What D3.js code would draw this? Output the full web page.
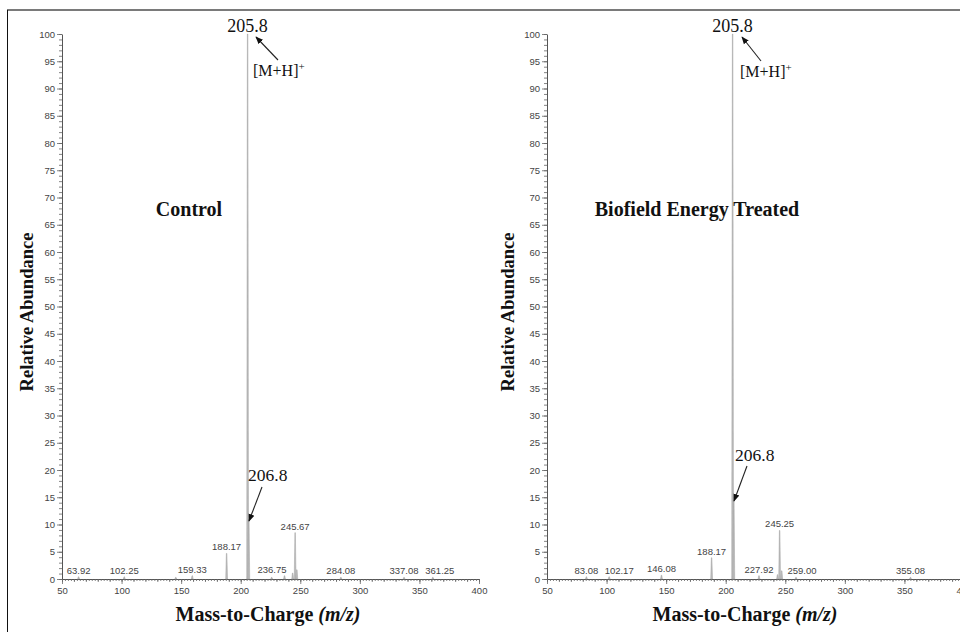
<!DOCTYPE html>
<html>
<head>
<meta charset="utf-8">
<script src="https://cdn.jsdelivr.net/npm/d3@7"></script>
<style>
  html, body { margin: 0; padding: 0; background: #fff; }
  svg { display: block; }
</style>
</head>
<body>
<svg id="chart" width="960" height="632"></svg>
<script>
// ---------- data ----------
const xDomain = [50, 400];
const yDomain = [0, 100];
const xTickValues = [50, 100, 150, 200, 250, 300, 350, 400];
const yTickValues = [0, 5, 10, 15, 20, 25, 30, 35, 40, 45, 50, 55, 60, 65, 70, 75, 80, 85, 90, 95, 100];

const panelTitles = ["Control", "Biofield Energy Treated"];

// Control spectrum (m/z, relative abundance %)
const controlMz    = [63.92, 102.25, 145.5, 159.33, 188.17, 205.8, 206.8, 226.0, 236.75, 243.6, 245.67, 247.1, 284.08, 337.08, 361.25];
const controlAbund = [0.4,   0.4,    0.3,   0.6,    4.7,    100,   11,    0.3,   0.6,    1.1,   8.5,    1.7,   0.3,    0.3,    0.3];
const controlLabeled = ["63.92", "102.25", "159.33", "188.17", "236.75", "245.67", "284.08", "337.08", "361.25"];

// Treated spectrum
const treatedMz    = [83.08, 102.17, 146.08, 188.17, 205.8, 206.8, 227.92, 243.5, 245.25, 247.0, 259.00, 355.08];
const treatedAbund = [0.4,   0.4,    0.7,    3.9,    100,   15,    0.6,    0.8,   8.9,    1.5,   0.3,    0.3];
const treatedLabeled = ["83.08", "102.17", "146.08", "188.17", "227.92", "245.25", "259.00", "355.08"];

const mainPeakLabel = "205.8";
const secondPeakLabel = "206.8";
const ionLabel = "[M+H]";
const xTitle = "Mass-to-Charge ";
const xTitleItalic = "(m/z)";
const yTitle = "Relative Abundance";

// ---------- layout ----------
const svg = d3.select("#chart");
const tickFont = "'Liberation Sans', Arial, sans-serif";
const serif = "'Liberation Serif', 'Times New Roman', serif";

// frame
svg.append("line").attr("x1", 7).attr("x2", 960).attr("y1", 10).attr("y2", 10)
  .attr("stroke", "#7a7a7a").attr("stroke-width", 2);
svg.append("line").attr("x1", 7.5).attr("x2", 7.5).attr("y1", 10).attr("y2", 632)
  .attr("stroke", "#111").attr("stroke-width", 1);

const panels = [
  { left: 62, right: 479, mz: controlMz, ab: controlAbund, labeled: controlLabeled, title: panelTitles[0],
    titleX: 189, xTitleX: 268, yTitleX: 33,
    nudge: { "236.75": { anchor: "end", dx: 2 }, "361.25": { anchor: "middle", dx: 7 } },
    arrowMain: { head: [256, 37], tail: [278, 60], text: [253, 76] },
    arrow2: { text: [248, 481], tail: [262, 487], head: [249, 521] } },
  { left: 547, right: 964, mz: treatedMz, ab: treatedAbund, labeled: treatedLabeled, title: panelTitles[1],
    titleX: 697, xTitleX: 745, yTitleX: 514,
    nudge: { "102.17": { anchor: "middle", dx: 10 }, "259.00": { anchor: "middle", dx: 6 } },
    arrowMain: { head: [742, 37], tail: [761, 61], text: [740, 77] },
    arrow2: { text: [735, 461], tail: [747, 466], head: [734, 501] } }
];

const plotTop = 34, plotBottom = 579;
const y = d3.scaleLinear().domain(yDomain).range([plotBottom, plotTop]);

// arrow marker
svg.append("defs").append("marker")
  .attr("id", "arrow").attr("viewBox", "0 0 10 10").attr("refX", 9).attr("refY", 5)
  .attr("markerWidth", 7).attr("markerHeight", 7).attr("orient", "auto-start-reverse")
  .append("path").attr("d", "M0,1 L10,5 L0,9 Z").attr("fill", "#111");

panels.forEach(p => {
  const x = d3.scaleLinear().domain(xDomain).range([p.left, p.right]);
  const g = svg.append("g");

  // y axis
  const yAxis = d3.axisLeft(y).tickValues(yTickValues).tickSize(5).tickPadding(2).tickSizeOuter(0);
  const yg = g.append("g").attr("transform", `translate(${p.left},0)`).call(yAxis);
  const yMinor = d3.axisLeft(y).tickValues(d3.range(0, 101, 1)).tickSize(3).tickFormat("").tickSizeOuter(0);
  const ym = g.append("g").attr("transform", `translate(${p.left},0)`).call(yMinor);
  ym.select(".domain").remove();

  // x axis
  const xAxis = d3.axisBottom(x).tickValues(xTickValues).tickSize(5).tickPadding(3).tickSizeOuter(0);
  const xg = g.append("g").attr("transform", `translate(0,${plotBottom})`).call(xAxis);
  const xMinor = d3.axisBottom(x).tickValues(d3.range(50, 401, 2.5)).tickSize(2).tickFormat("").tickSizeOuter(0);
  const xm = g.append("g").attr("transform", `translate(0,${plotBottom})`).call(xMinor);
  xm.select(".domain").remove();
  const xMid = d3.axisBottom(x).tickValues(d3.range(50, 401, 10)).tickSize(3).tickFormat("").tickSizeOuter(0);
  const xmid = g.append("g").attr("transform", `translate(0,${plotBottom})`).call(xMid);
  xmid.select(".domain").remove();

  [yg, ym, xg, xm, xmid].forEach(a => {
    a.selectAll("line").attr("stroke", "#666").attr("stroke-width", 0.8);
    a.selectAll(".domain").attr("stroke", "#555").attr("stroke-width", 1);
    a.selectAll("text").attr("font-family", tickFont).attr("font-size", 9.5).attr("fill", "#444");
  });

  // peaks
  const peaks = p.mz.map((m, i) => ({ mz: m, ab: p.ab[i] }));
  g.append("g").selectAll("path").data(peaks).join("path")
    .attr("d", d => {
      const x0 = x(d.mz);
      return `M${x0 - 0.9},${plotBottom} L${x0 - 0.25},${y(d.ab)} L${x0 + 0.25},${y(d.ab)} L${x0 + 0.9},${plotBottom} Z`;
    })
    .attr("fill", "#bcbcbc").attr("stroke", "#a0a0a0").attr("stroke-width", 0.5);

  // peak labels
  g.append("g").selectAll("text").data(peaks.filter(d => p.labeled.includes(d.mz.toFixed(2)))).join("text")
    .attr("x", d => { const n = p.nudge[d.mz.toFixed(2)]; return x(d.mz) + (n ? n.dx : 0); })
    .attr("y", d => y(d.ab) - 3)
    .attr("text-anchor", d => { const n = p.nudge[d.mz.toFixed(2)]; return n ? n.anchor : "middle"; })
    .attr("font-family", tickFont).attr("font-size", 9.5).attr("fill", "#444")
    .text(d => d.mz.toFixed(2));

  // main peak annotation
  const mainX = x(p.mz[p.ab.indexOf(100)]);
  g.append("text").attr("x", mainX).attr("y", 32).attr("text-anchor", "middle")
    .attr("font-family", serif).attr("font-size", 18).attr("fill", "#111").text(mainPeakLabel);
  g.append("line").attr("x1", p.arrowMain.tail[0]).attr("y1", p.arrowMain.tail[1])
    .attr("x2", p.arrowMain.head[0]).attr("y2", p.arrowMain.head[1])
    .attr("stroke", "#222").attr("stroke-width", 1.1).attr("marker-end", "url(#arrow)");
  const ion = g.append("text").attr("x", p.arrowMain.text[0]).attr("y", p.arrowMain.text[1])
    .attr("font-family", serif).attr("font-size", 16).attr("fill", "#111");
  ion.append("tspan").text(ionLabel);
  ion.append("tspan").attr("font-size", 11).attr("dy", -6).text("+");

  // second peak annotation
  g.append("text").attr("x", p.arrow2.text[0]).attr("y", p.arrow2.text[1])
    .attr("font-family", serif).attr("font-size", 17.5).attr("fill", "#111").text(secondPeakLabel);
  g.append("line").attr("x1", p.arrow2.tail[0]).attr("y1", p.arrow2.tail[1])
    .attr("x2", p.arrow2.head[0]).attr("y2", p.arrow2.head[1])
    .attr("stroke", "#222").attr("stroke-width", 1.1).attr("marker-end", "url(#arrow)");

  // panel title
  g.append("text").attr("x", p.titleX).attr("y", 216).attr("text-anchor", "middle")
    .attr("font-family", serif).attr("font-weight", "bold").attr("font-size", 20).attr("fill", "#111")
    .text(p.title);

  // axis titles
  const xt = g.append("text").attr("x", p.xTitleX).attr("y", 621)
    .attr("text-anchor", "middle").attr("font-family", serif).attr("font-weight", "bold")
    .attr("font-size", 20).attr("fill", "#111");
  xt.append("tspan").text(xTitle);
  xt.append("tspan").attr("font-style", "italic").text(xTitleItalic);

  g.append("text").attr("transform", `translate(${p.yTitleX},312) rotate(-90)`)
    .attr("text-anchor", "middle").attr("font-family", serif).attr("font-weight", "bold")
    .attr("font-size", 18.5).attr("fill", "#111").text(yTitle);
});
</script>
</body>
</html>
